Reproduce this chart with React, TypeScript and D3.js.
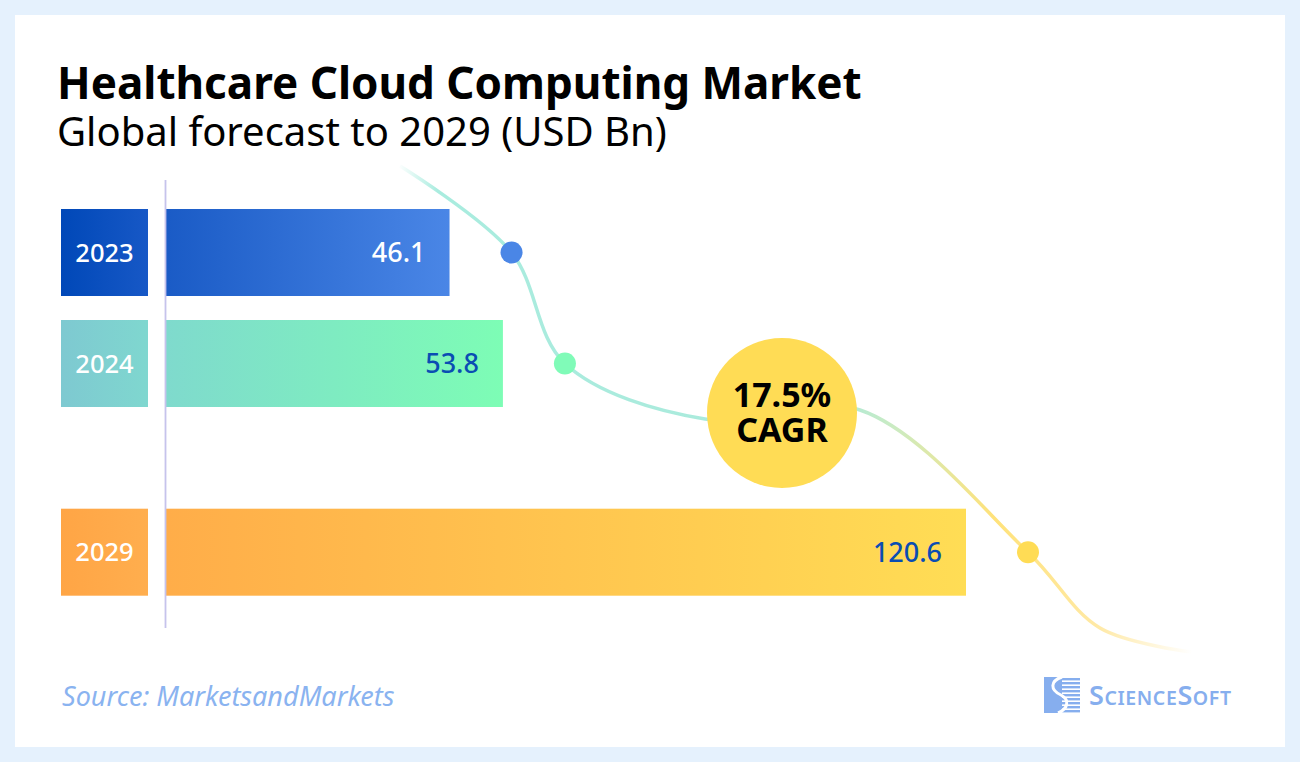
import React from "react";
import * as d3 from "d3";

const years = ["2023", "2024", "2029"];
const values = [46.1, 53.8, 120.6];
const rowIndex = [0, 1, 2.7];
const boxColors = [
  ["#0048b8", "#1758c6"],
  ["#7ec9d1", "#7fd7cf"],
  ["#ffa545", "#ffae4e"],
];
const barColors = [
  ["#1a5bc6", "#4a86e6"],
  ["#7fdacd", "#7dfdb5"],
  ["#ffad49", "#ffdd55"],
];
const valueColors = ["#ffffff", "#0a4db3", "#0a4db3"];
const dotColors = ["#4a86e6", "#80fbb8", "#ffdc55"];
const cagrText = ["17.5%", "CAGR"];
const title = "Healthcare Cloud Computing Market";
const subtitle = "Global forecast to 2029 (USD Bn)";
const source = "Source: MarketsandMarkets";

const W = 1300;
const H = 762;
const FONT = "'Noto Sans', 'Open Sans', sans-serif";

export default function App() {
  const barX0 = 166;
  const x = d3.scaleLinear().domain([5.2, 120.6]).range([barX0, barX0 + 800]);
  const y = d3.scaleLinear().domain([0, 1]).range([209, 320]);
  const barH = 87;

  const dots = values.map((v, i) => ({
    cx: x(v) + 62,
    cy: y(rowIndex[i]) + barH / 2,
  }));

  const cx = 782;
  const cy = 413;
  const curvePts: [number, number][] = [
    [400, 166],
    [dots[0].cx, dots[0].cy],
    [dots[1].cx, dots[1].cy],
    [705, 419],
    [860, 410],
    [dots[2].cx, dots[2].cy],
    [1100, 628],
    [1192, 652],
  ];
  const line = d3.line().curve(d3.curveCatmullRom.alpha(0.5));
  const curvePath = line(curvePts) || "";

  return (
    <div style={{ position: "fixed", left: 0, top: 0, width: W, height: H }}>
      <svg width={W} height={H} style={{ display: "block" }}>
        <defs>
          {years.map((yr, i) => (
            <linearGradient key={"b" + yr} id={"box" + i} x1="0" x2="1" y1="0" y2="0">
              <stop offset="0" stopColor={boxColors[i][0]} />
              <stop offset="1" stopColor={boxColors[i][1]} />
            </linearGradient>
          ))}
          {years.map((yr, i) => (
            <linearGradient key={"g" + yr} id={"bar" + i} x1="0" x2="1" y1="0" y2="0">
              <stop offset="0" stopColor={barColors[i][0]} />
              <stop offset="1" stopColor={barColors[i][1]} />
            </linearGradient>
          ))}
          <linearGradient id="curveGrad" gradientUnits="userSpaceOnUse" x1="398" x2="1192" y1="0" y2="0">
            <stop offset="0" stopColor="#ffffff" />
            <stop offset="0.05" stopColor="#a9ecdf" />
            <stop offset="0.55" stopColor="#abeadb" />
            <stop offset="0.63" stopColor="#cdebc0" />
            <stop offset="0.75" stopColor="#ffe27a" />
            <stop offset="0.88" stopColor="#ffe9a5" />
            <stop offset="1" stopColor="#ffffff" />
          </linearGradient>
        </defs>
        <rect x={0} y={0} width={W} height={H} fill="#e5f1fd" />
        <rect x={15} y={15} width={1270} height={732} fill="#ffffff" />

        <text x={57} y={99} fontFamily={FONT} fontWeight={700} fontSize={44} fill="#000">
          {title}
        </text>
        <text x={57} y={146} fontFamily={FONT} fontWeight={400} fontSize={40} fill="#000">
          {subtitle}
        </text>

        <path d={curvePath} fill="none" stroke="url(#curveGrad)" strokeWidth={3.5} />

        {years.map((yr, i) => {
          const yy = y(rowIndex[i]);
          return (
            <g key={yr}>
              <rect x={61} y={yy} width={87} height={barH} fill={`url(#box${i})`} />
              <text
                x={104.5}
                y={yy + barH / 2 + 9}
                textAnchor="middle"
                fontFamily={FONT}
                fontWeight={500}
                fontSize={25.5}
                fill="#ffffff"
              >
                {yr}
              </text>
              <rect x={barX0} y={yy} width={x(values[i]) - barX0} height={barH} fill={`url(#bar${i})`} />
              <text
                x={x(values[i]) - 24}
                y={yy + barH / 2 + 9.5}
                textAnchor="end"
                fontFamily={FONT}
                fontWeight={500}
                fontSize={27}
                fill={valueColors[i]}
              >
                {values[i].toFixed(1)}
              </text>
            </g>
          );
        })}

        <line x1={165.5} x2={165.5} y1={180} y2={628} stroke="#c6c3ec" strokeWidth={1.8} />

        {dots.map((d, i) => (
          <circle key={i} cx={d.cx} cy={d.cy} r={11} fill={dotColors[i]} />
        ))}

        <circle cx={cx} cy={cy} r={75} fill="#ffdc55" />
        <text x={cx} y={407} textAnchor="middle" fontFamily={FONT} fontWeight={700} fontSize={34} fill="#000">
          {cagrText[0]}
        </text>
        <text x={cx} y={442} textAnchor="middle" fontFamily={FONT} fontWeight={700} fontSize={34} fill="#000">
          {cagrText[1]}
        </text>

        <text x={62} y={706} fontFamily={FONT} fontStyle="italic" fontSize={27} fill="#8ab3f0">
          {source}
        </text>

        <g>
          <rect x={1044} y={677} width={18} height={36} fill="#86aeee" />
          {d3.range(9).map((k) => (
            <rect key={k} x={1060} y={678 + k * 4} width={20} height={2.4} fill="#86aeee" />
          ))}
          <path
            d="M1062,677 C1050,681 1050,690 1061,695 C1070,700 1068,709 1058,713"
            fill="none"
            stroke="#ffffff"
            strokeWidth={3}
          />
          <text x={1089} y={705} fontFamily={FONT} fontWeight={600} fill="#86aeee" letterSpacing={0.6}>
            <tspan fontSize={27}>S</tspan>
            <tspan fontSize={19.5}>CIENCE</tspan>
            <tspan fontSize={27}>S</tspan>
            <tspan fontSize={19.5}>OFT</tspan>
          </text>
        </g>
      </svg>
    </div>
  );
}
